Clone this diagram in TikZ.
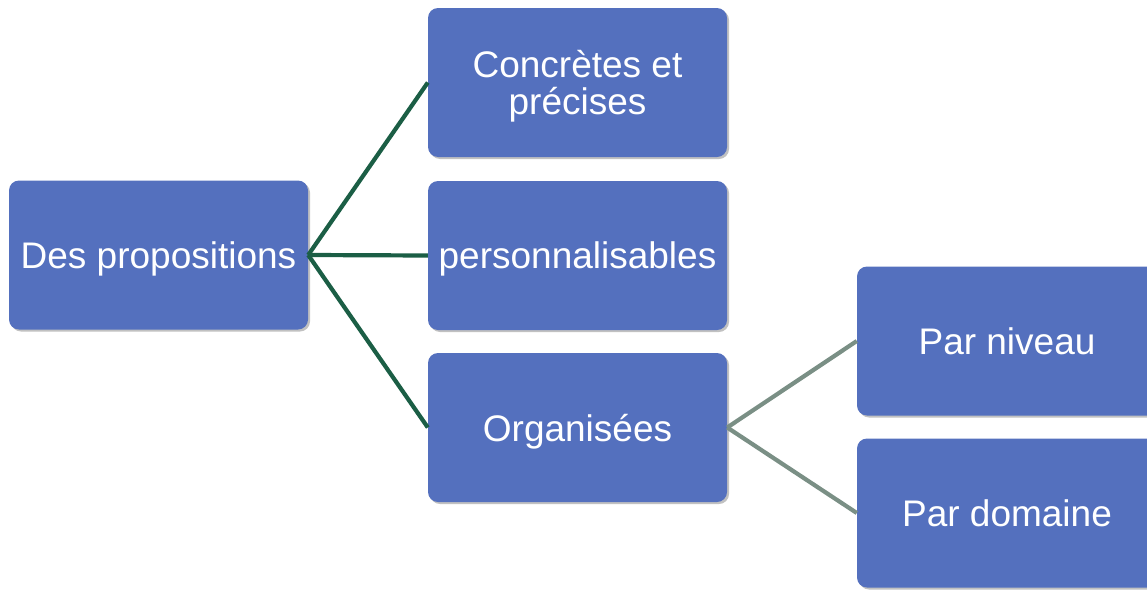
\documentclass[tikz,border=0pt]{standalone}
\usepackage{fontspec}
\setmainfont{Liberation Sans}
\usetikzlibrary{shadows}
\definecolor{boxblue}{RGB}{84,112,190}
\definecolor{darkline}{RGB}{27,94,69}
\definecolor{greyline}{RGB}{122,143,133}
\begin{document}
\begin{tikzpicture}[x=1pt,y=-1pt,
  box/.style={rectangle, rounded corners=10pt, fill=boxblue, draw=none,
    minimum width=299pt, minimum height=149pt, inner sep=0pt, text depth=0pt,
    text=white, align=center, font=\fontsize{37}{37}\selectfont,
    drop shadow={shadow xshift=2pt, shadow yshift=-2pt, opacity=0.35, fill=black!70}},
  link/.style={line width=4.2pt, darkline},
  link2/.style={line width=4.2pt, greyline}]
\useasboundingbox (0,0) rectangle (1147,589);
\node[box] (a) at (158.5,255) {Des propositions};
\node[box] (b) at (577.5,82.5) {Concrètes et\\précises};
\node[box] (c) at (577.5,255.5) {personnalisables};
\node[box] (d) at (577.5,427.5) {Organisées};
\node[box, minimum width=300pt] (e) at (1007,341) {Par niveau};
\node[box, minimum width=300pt] (f) at (1007,513) {Par domaine};
\draw[link] (a.east) -- (b.west);
\draw[link] (a.east) -- (c.west);
\draw[link] (a.east) -- (d.west);
\draw[link2] (d.east) -- (e.west);
\draw[link2] (d.east) -- (f.west);
\end{tikzpicture}
\end{document}
